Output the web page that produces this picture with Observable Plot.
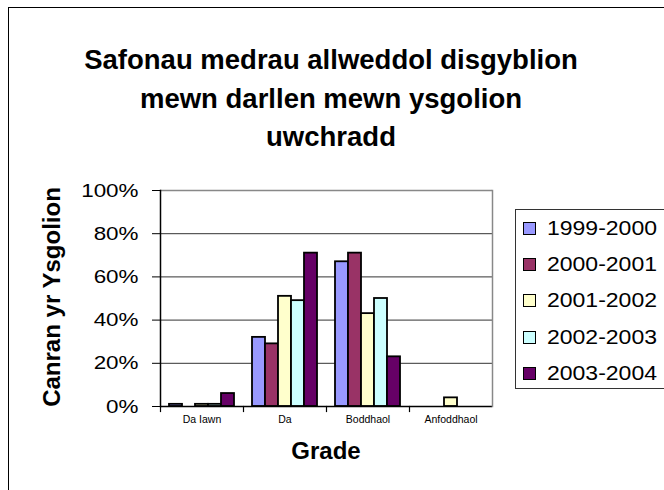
<!DOCTYPE html>
<html><head><meta charset="utf-8">
<script src="https://cdn.jsdelivr.net/npm/d3@7"></script>
<script src="https://cdn.jsdelivr.net/npm/@observablehq/plot@0.6"></script>
<style>
body{margin:0;background:#fff;font-family:"Liberation Sans",Arial,sans-serif;color:#000;}
#wrap{position:relative;width:664px;height:490px;overflow:hidden;background:#fff;}
#border{position:absolute;left:8px;top:7px;width:900px;height:900px;border-left:1px solid #000;border-top:1px solid #000;}
#title{position:absolute;left:0;top:41px;width:662px;text-align:center;font-weight:bold;font-size:27.5px;line-height:38.5px;}
#chart{position:absolute;left:0;top:170px;}
#ytitle{position:absolute;left:-98px;top:283px;width:300px;height:28px;line-height:28px;text-align:center;font-weight:bold;font-size:24px;transform:rotate(-90deg);transform-origin:150px 14px;}
#xtitle{position:absolute;left:176px;top:437px;width:300px;height:28px;line-height:28px;text-align:center;font-weight:bold;font-size:24px;}
#legend{position:absolute;left:515px;top:209px;width:200px;height:178px;border:1px solid #333;}
.item{position:absolute;left:0;height:30px;line-height:30px;font-size:20px;white-space:nowrap;}
.sw{position:absolute;left:7px;top:9px;width:13px;height:13px;box-sizing:border-box;border:1.5px solid #000;}
.lab{position:absolute;left:31px;top:0;transform:scaleX(1.15);transform-origin:0 50%;}
</style></head>
<body>
<div id="wrap">
  <div id="border"></div>
  <div id="title"></div>
  <div id="chart"></div>
  <div id="ytitle"></div>
  <div id="xtitle"></div>
  <div id="legend"></div>
</div>
<script>
const titleLines = ["Safonau medrau allweddol disgyblion", "mewn darllen mewn ysgolion", "uwchradd"];
const yTitle = "Canran yr Ysgolion";
const xTitle = "Grade";
const grades = ["Da Iawn", "Da", "Boddhaol", "Anfoddhaol"];
const series = ["1999-2000", "2000-2001", "2001-2002", "2002-2003", "2003-2004"];
const colors = ["#9999FF", "#993366", "#FFFFCC", "#CCFFFF", "#660066"];
const v1999_2000 = [1, 32, 67, 0];
const v2000_2001 = [0, 29, 71, 0];
const v2001_2002 = [1, 51, 43, 4];
const v2002_2003 = [1, 49, 50, 0];
const v2003_2004 = [6, 71, 23, 0];
const yTicks = [0, 20, 40, 60, 80, 100];

const values = [v1999_2000, v2000_2001, v2001_2002, v2002_2003, v2003_2004];
const data = [];
series.forEach((s, i) => grades.forEach((g, j) => data.push({grade: g, series: s, value: values[i][j]})));

document.getElementById("title").innerHTML = titleLines.map(t => `<div>${t}</div>`).join("");
document.getElementById("ytitle").textContent = yTitle;
document.getElementById("xtitle").textContent = xTitle;

const legend = document.getElementById("legend");
series.forEach((s, i) => {
  const it = document.createElement("div");
  it.className = "item";
  it.style.top = (3 + i * 36.2) + "px";
  it.innerHTML = `<span class="sw" style="background:${colors[i]}"></span><span class="lab">${s}</span>`;
  legend.appendChild(it);
});

const chart = Plot.plot({
  width: 664,
  height: 320,
  marginTop: 20,
  marginBottom: 84,
  marginLeft: 158,
  marginRight: 171,
  style: {fontFamily: "'Liberation Sans', Arial, sans-serif", color: "#000", background: "transparent", overflow: "visible"},
  fx: {domain: grades, padding: 0, label: null},
  x: {domain: series, paddingInner: 0, paddingOuter: 0.65, axis: null},
  y: {domain: [0, 100], label: null},
  color: {domain: series, range: colors},
  marks: [
    Plot.ruleY([20, 40, 60, 80], {stroke: "#333", strokeWidth: 1}),
    Plot.ruleY([100], {stroke: "#888", strokeWidth: 1.5}),
    Plot.barY(data, {fx: "grade", x: "series", y: "value", fill: "series", stroke: "#000", strokeWidth: 1.8}),
    Plot.ruleY([0], {stroke: "#000", strokeWidth: 1.5}),
    Plot.frame({anchor: "left", insetTop: 216, insetBottom: -5, stroke: "#000", strokeWidth: 1.2}),
    Plot.frame({facet: "super", anchor: "left", stroke: "#000", strokeWidth: 1.5}),
    Plot.frame({facet: "super", anchor: "right", stroke: "#888", strokeWidth: 1.5}),
    Plot.axisY({ticks: yTicks, tickFormat: d => d + "%", tickSize: 8, tickPadding: 14, fontSize: 19, label: null}),
    Plot.axisFx({anchor: "bottom", tickSize: 0, tickPadding: 9.5, fontSize: 10.5, label: null})
  ]
});
document.getElementById("chart").appendChild(chart);

chart.querySelectorAll('[aria-label="y-axis tick label"] text').forEach(t => {
  const L = t.getComputedTextLength();
  t.setAttribute("textLength", L * 1.18);
  t.setAttribute("lengthAdjust", "spacingAndGlyphs");
});
</script>
</body></html>
